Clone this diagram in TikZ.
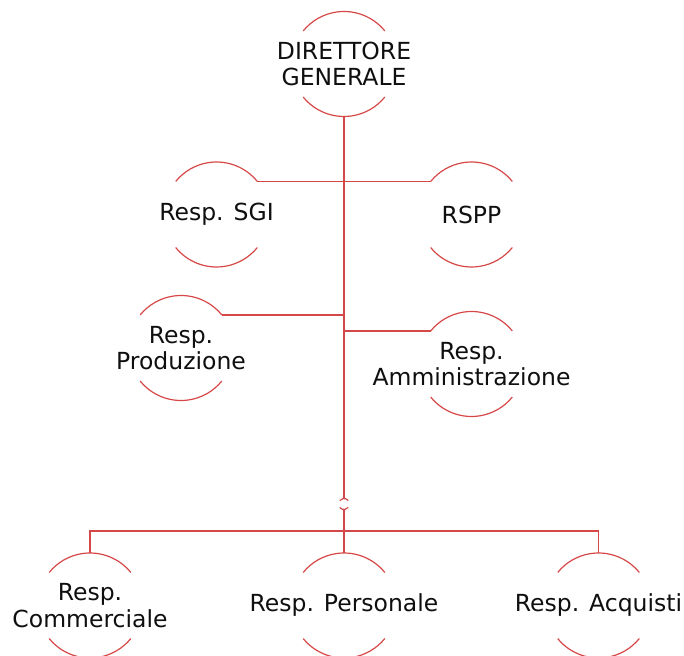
\documentclass[tikz,border=0pt]{standalone}
\usepackage{fontspec}
\setmainfont{DejaVu Sans}
\usetikzlibrary{calc}
\definecolor{linered}{RGB}{214,72,72}
\definecolor{txt}{RGB}{15,15,15}
\tikzset{
  orgtext/.style={align=center, inner sep=0pt, text=txt, font=\fontsize{23.5}{26.5}\selectfont},
  arcline/.style={draw=linered, line width=1.2pt},
  conn/.style={draw=linered, line width=1.3pt},
  trunk/.style={draw=linered, line width=1.7pt},
}
\newcommand\orgarcs[2]{%
  \draw[arcline] ([shift={(39:#2)}]#1.center) arc[start angle=39,end angle=141,radius=#2]
                 ([shift={(219:#2)}]#1.center) arc[start angle=219,end angle=321,radius=#2];
  \coordinate (#1-n) at ([shift={(90:#2)}]#1.center);
  \coordinate (#1-s) at ([shift={(270:#2)}]#1.center);
  \coordinate (#1-ne) at ([shift={(39:#2)}]#1.center);
  \coordinate (#1-nw) at ([shift={(141:#2)}]#1.center);
}
\begin{document}
\begin{tikzpicture}[x=1pt,y=1pt]
\useasboundingbox (0,0) rectangle (684,655);

\node[orgtext] (dg)   at (344,591)     {DIRETTORE\\GENERALE};
\node[orgtext] (sgi)  at (216.5,440.5) {Resp. SGI};
\node[orgtext] (rspp) at (471.5,440.5) {RSPP};
\node[orgtext] (prod) at (181,307)     {Resp.\\Produzione};
\node[orgtext] (amm)  at (471.5,291)   {Resp.\\Amministrazione};
\node[orgtext] (comm) at (90,49.5)     {Resp.\\Commerciale};
\node[orgtext] (pers) at (344,49.5)    {Resp. Personale};
\node[orgtext] (acq)  at (598.5,49.5)  {Resp. Acquisti};
\coordinate (jump) at (344,151);

\orgarcs{dg}{52.5pt}
\orgarcs{sgi}{52.5pt}
\orgarcs{rspp}{52.5pt}
\orgarcs{prod}{52.5pt}
\orgarcs{amm}{52.5pt}
\orgarcs{comm}{52.5pt}
\orgarcs{pers}{52.5pt}
\orgarcs{acq}{52.5pt}
\orgarcs{jump}{5.5pt}

\coordinate (busc) at (344,124);

\draw[trunk] (dg-s) -- (jump-n);
\draw[trunk] (jump-s) -- (busc);
\draw[conn] (busc) -- (pers-n);
\draw[conn] (sgi-ne) -- (rspp-nw);
\draw[conn] (prod-ne) -- (prod-ne -| dg-s);
\draw[conn] (amm-nw -| dg-s) -- (amm-nw);
\draw[conn] (comm-n) |- (busc) -| (acq-n);
\end{tikzpicture}
\end{document}
